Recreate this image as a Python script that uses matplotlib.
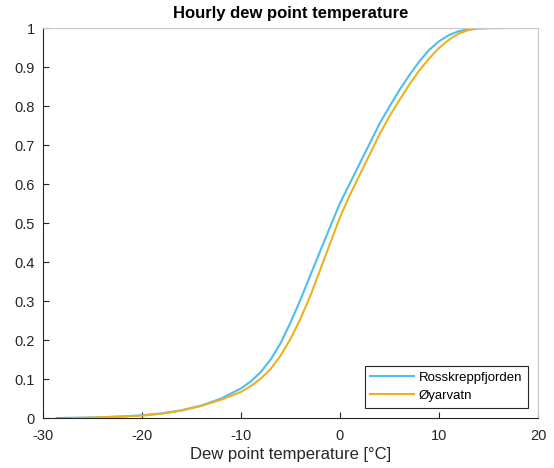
import matplotlib
matplotlib.use("Agg")
import matplotlib.pyplot as plt

plt.rcParams['font.family'] = ['Liberation Sans', 'DejaVu Sans']
plt.rcParams['axes.unicode_minus'] = False

# Data
ross_x = [-28.6, -26, -24, -22, -20, -18, -16, -14, -12, -10, -9, -8, -7, -6, -5,
          -4, -3, -2, -1, 0, 1, 2, 3, 4, 5, 6, 7, 8, 9, 10, 11, 12, 13, 14, 15, 16]
ross_y = [0, 0.001, 0.002, 0.004, 0.007, 0.012, 0.02, 0.032, 0.05, 0.076, 0.094, 0.118,
          0.15, 0.192, 0.245, 0.303, 0.366, 0.428, 0.49, 0.551, 0.602, 0.653, 0.704,
          0.755, 0.799, 0.841, 0.879, 0.914, 0.944, 0.966, 0.982, 0.992, 0.997, 0.999,
          1.0, 1.0]

oy_x = [-27.1, -25, -23, -21, -20, -18, -16, -14, -12, -10, -9, -8, -7, -6, -5, -4,
        -3, -2, -1, 0, 1, 2, 3, 4, 5, 6, 7, 8, 9, 10, 11, 12, 13, 14, 15, 16, 17, 17.85]
oy_y = [0, 0.001, 0.003, 0.005, 0.006, 0.011, 0.019, 0.031, 0.047, 0.067, 0.082, 0.101,
        0.126, 0.16, 0.203, 0.254, 0.313, 0.38, 0.448, 0.515, 0.572, 0.624, 0.676, 0.728,
        0.774, 0.815, 0.855, 0.891, 0.922, 0.949, 0.97, 0.986, 0.995, 0.999, 1.0, 1.0,
        1.0, 1.0]

series_names = ['Rosskreppfjorden', 'Øyarvatn']
x_ticks = [-30, -20, -10, 0, 10, 20]
y_ticks = [0, 0.1, 0.2, 0.3, 0.4, 0.5, 0.6, 0.7, 0.8, 0.9, 1]
y_tick_labels = ['0', '0.1', '0.2', '0.3', '0.4', '0.5', '0.6', '0.7', '0.8', '0.9', '1']

fig = plt.figure(figsize=(5.54, 4.68), dpi=100)
ax = fig.add_axes([0.0776, 0.1068, 0.8935, 0.8332])

ax.plot(ross_x, ross_y, color='#4DBEEE', lw=1.5, label=series_names[0])
ax.plot(oy_x, oy_y, color='#EDB120', lw=1.5, label=series_names[1])

ax.set_xlim(-30, 20)
ax.set_ylim(0, 1)
ax.set_xticks(x_ticks)
ax.set_yticks(y_ticks)
ax.set_yticklabels(y_tick_labels)
ax.tick_params(direction='in', length=4, width=0.8, colors='#262626',
               labelsize=10.5, labelcolor='#262626')
ax.tick_params(axis='x', pad=8)
ax.tick_params(axis='y', pad=6)

for s in ['left', 'bottom']:
    ax.spines[s].set_color('#262626')
    ax.spines[s].set_linewidth(0.8)
for s in ['top', 'right']:
    ax.spines[s].set_color('#c8c8c8')
    ax.spines[s].set_linewidth(0.8)

ax.set_title('Hourly dew point temperature', fontsize=12, fontweight='bold',
             color='#000000', pad=7)
ax.set_xlabel('Dew point temperature [°C]', fontsize=12, color='#262626', labelpad=3)

leg = ax.legend(loc='lower right', bbox_to_anchor=(0.98, 0.026), borderaxespad=0,
                fontsize=9.5, fancybox=False, framealpha=1, edgecolor='#262626',
                handlelength=3.3, handletextpad=0.35, borderpad=0.45, labelspacing=0.45)
leg.get_frame().set_linewidth(0.8)

fig.savefig('out.png', dpi=100)
